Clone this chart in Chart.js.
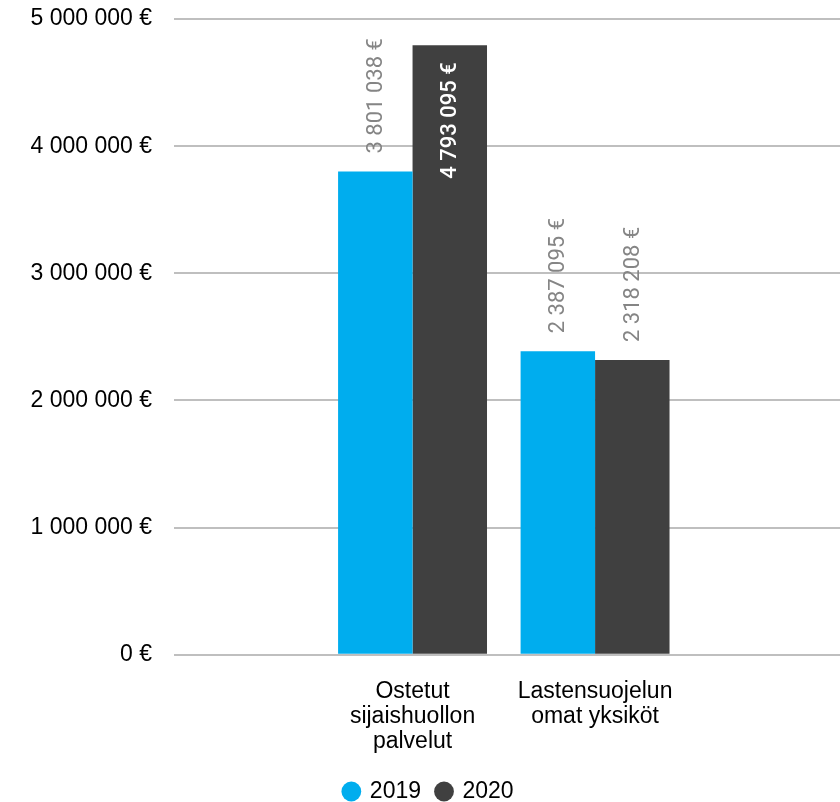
<!DOCTYPE html>
<html>
<head>
<meta charset="utf-8">
<script src="https://cdn.jsdelivr.net/npm/chart.js@4"></script>
<style>
  html, body { margin: 0; padding: 0; background: #fff; }
</style>
</head>
<body>
<canvas id="bar_chart" width="840" height="802"></canvas>
<script>
// chart values
const categories = [["Ostetut", "sijaishuollon", "palvelut"], ["Lastensuojelun", "omat yksiköt"]];
const years = ["2019", "2020"];
const values_2019 = [3801038, 2387095];
const values_2020 = [4793095, 2318208];
const y_max = 5000000;
const y_step = 1000000;

const colors = ["#00adee", "#404040"];
const axis_font = { family: "'Liberation Sans', Arial, sans-serif", size: 23 };

// 3801038 -> "3 801 038 €"
function euro(v) {
    return String(Math.round(v)).replace(/\B(?=(\d{3})+(?!\d))/g, " ") + " €";
}

// bars sit on a linear x axis so the groups can be placed like the original
function to_points(values) {
    return values.map((v, i) => ({ x: i + 1, y: v }));
}

// rotated value labels, above the bar or inside its top if there is no room
const bar_labels = {
    id: "bar_labels",
    afterDatasetsDraw(chart) {
        const ctx = chart.ctx;
        chart.data.datasets.forEach((ds, di) => {
            const meta = chart.getDatasetMeta(di);
            meta.data.forEach((bar, i) => {
                const text = euro(ds.data[i].y);
                ctx.save();
                ctx.font = "400 22px Roboto, sans-serif";
                const w = ctx.measureText(text).width;
                const fits = bar.y - 18 - w >= 0;
                ctx.translate(bar.x + 1, fits ? bar.y - 18 : bar.y + 17);
                ctx.rotate(-Math.PI / 2);
                ctx.textBaseline = "middle";
                if (fits) {
                    ctx.fillStyle = "#858585";
                    ctx.textAlign = "left";
                } else {
                    ctx.font = "500 22px Roboto, sans-serif";
                    ctx.fillStyle = "#ffffff";
                    ctx.textAlign = "right";
                }
                ctx.fillText(text, 0, 0);
                ctx.restore();
            });
        });
    }
};

// legend sits a bit right of the canvas centre in the original
const legend_shift = {
    id: "legend_shift",
    afterLayout(chart) {
        if (chart.legend) {
            chart.legend.left += 9;
            chart.legend.right += 9;
        }
    }
};

const config = {
    type: "bar",
    data: {
        datasets: [
            {
                label: years[0],
                data: to_points(values_2019),
                backgroundColor: colors[0],
                borderWidth: 0
            },
            {
                label: years[1],
                data: to_points(values_2020),
                backgroundColor: colors[1],
                borderWidth: 0
            }
        ]
    },
    options: {
        responsive: false,
        animation: false,
        categoryPercentage: 0.816,
        barPercentage: 1.0,
        layout: {
            padding: { top: 19, right: 0, bottom: -11, left: 0 }
        },
        plugins: {
            tooltip: { enabled: false },
            legend: {
                position: "bottom",
                labels: {
                    usePointStyle: true,
                    pointStyle: "circle",
                    boxWidth: 14,
                    boxHeight: 14,
                    padding: 16,
                    color: "#000",
                    font: axis_font
                }
            }
        },
        scales: {
            x: {
                type: "linear",
                offset: false,
                min: -0.307,
                max: 3.342,
                afterBuildTicks: (scale) => {
                    scale.ticks = categories.map((c, i) => ({ value: i + 1 }));
                },
                afterFit: (scale) => { scale.height = scale.height - 14; },
                grid: { display: false, drawTicks: false },
                border: { display: false },
                ticks: {
                    autoSkip: false,
                    maxRotation: 0,
                    padding: 24,
                    color: "#000",
                    font: Object.assign({ lineHeight: 1.09 }, axis_font),
                    callback: (v) => categories[v - 1]
                }
            },
            y: {
                min: 0,
                max: y_max,
                afterFit: (scale) => {
                    scale.width = 174;
                    scale.paddingTop = 0;
                    scale.paddingBottom = 0;
                },
                grid: {
                    color: "#bfbfbf",
                    lineWidth: 2,
                    drawTicks: false
                },
                border: { display: false },
                ticks: {
                    stepSize: y_step,
                    padding: 22,
                    color: "#000",
                    font: axis_font,
                    callback: (v) => euro(v)
                }
            }
        }
    },
    plugins: [bar_labels, legend_shift]
};

const canvas = document.getElementById("bar_chart");
let my_bar_chart = new Chart(canvas, config);
</script>
</body>
</html>
